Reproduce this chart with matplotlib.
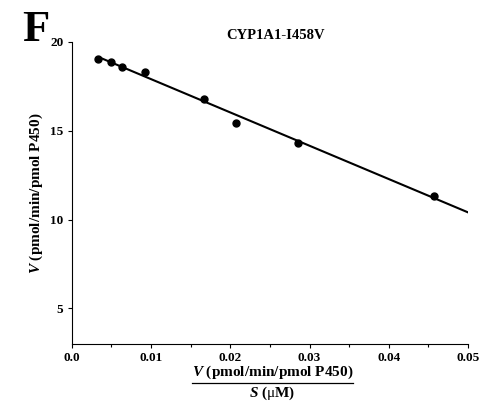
import numpy as np
import matplotlib
matplotlib.use("Agg")
import matplotlib.pyplot as plt
from matplotlib.lines import Line2D
from matplotlib.ticker import MultipleLocator

plt.rcParams['font.family'] = ['Liberation Serif', 'DejaVu Serif']
plt.rcParams['mathtext.fontset'] = 'custom'
plt.rcParams['mathtext.rm'] = 'Liberation Serif'
plt.rcParams['mathtext.it'] = 'Liberation Serif:italic:bold'
plt.rcParams['mathtext.bf'] = 'Liberation Serif:bold'

# Eadie-Hofstee data: V/S vs V
v_over_s = [0.0033, 0.0049, 0.0063, 0.0092, 0.0167, 0.0207, 0.0285, 0.0457]
v = [19.04, 18.88, 18.60, 18.31, 16.80, 15.45, 14.33, 11.35]
fit_slope = -187.5
fit_intercept = 19.78
fit_range = [0.0035, 0.05]

fig = plt.figure(figsize=(4.82, 4.07), dpi=100)
ax = fig.add_axes([0.149, 0.155, 0.822, 0.742])

xf = np.array(fit_range)
ax.plot(xf, fit_intercept + fit_slope * xf, color='black', lw=1.5)
ax.plot(v_over_s, v, 'o', color='black', ms=5)

ax.set_xlim(0, 0.05)
ax.set_ylim(3, 20)
ax.set_xticks([0.0, 0.01, 0.02, 0.03, 0.04, 0.05])
ax.set_xticklabels(['0.0', '0.01', '0.02', '0.03', '0.04', '0.05'])
ax.xaxis.set_minor_locator(MultipleLocator(0.005))
ax.set_yticks([5, 10, 15, 20])
for s in ['top', 'right']:
    ax.spines[s].set_visible(False)
for s in ['left', 'bottom']:
    ax.spines[s].set_linewidth(0.8)
ax.tick_params(axis='both', which='major', length=3, width=0.8, labelsize=9.5, pad=3)
ax.tick_params(axis='both', which='minor', length=2, width=0.8)
for lab in ax.get_xticklabels() + ax.get_yticklabels():
    lab.set_fontweight('bold')

ax.set_ylabel(r'$V$ (pmol/min/pmol P450)', fontsize=11, fontweight='bold', labelpad=4)

fig.text(0.571, 0.912, 'CYP1A1-I458V', ha='center', va='center',
         fontsize=10.5, fontweight='bold')

fig.text(0.565, 0.086, r'$V$ (pmol/min/pmol P450)', ha='center', va='center',
         fontsize=11, fontweight='bold')
fig.add_artist(Line2D([0.398, 0.732], [0.060, 0.060], color='black', lw=0.9,
                      transform=fig.transFigure))
fig.text(0.565, 0.033, r'$S$ ($\mathrm{\mu}$M)', ha='center', va='center',
         fontsize=11, fontweight='bold')

fig.text(0.045, 0.975, 'F', fontsize=32, fontweight='bold', va='top', ha='left')

fig.savefig('out.png', dpi=100)
